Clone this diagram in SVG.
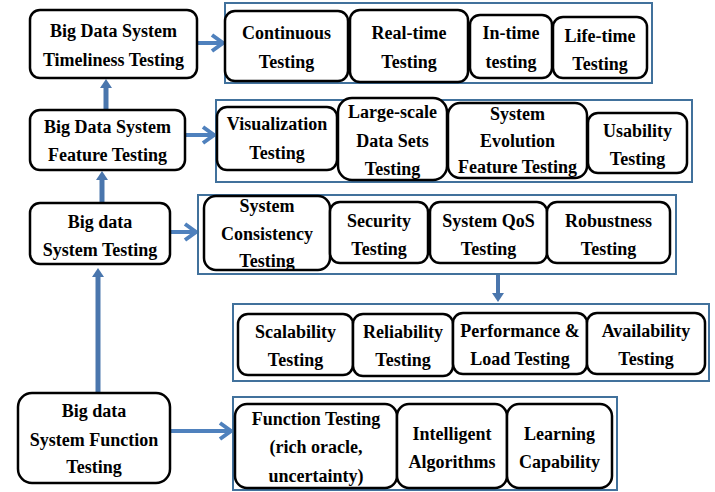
<svg xmlns="http://www.w3.org/2000/svg" width="715" height="492" viewBox="0 0 715 492">
<style>
.n rect{fill:#fff;stroke:#000;stroke-width:2.5}
.g{fill:none;stroke:#41719c;stroke-width:2}
text{font-family:"Liberation Serif","DejaVu Serif",serif;font-size:18px;font-weight:bold;text-anchor:middle;fill:#000}
.a{fill:none;stroke:#4f81bd;stroke-width:4}
.v{fill:none;stroke:#4a76ad;stroke-width:5}
</style>
<defs>
<marker id="chev" markerUnits="userSpaceOnUse" markerWidth="14" markerHeight="18" viewBox="0 0 14 18" refX="12" refY="9" orient="auto" style="overflow:visible">
<polyline points="1,1 12,9 1,17" fill="none" stroke="#4f81bd" stroke-width="4"/>
</marker>
<marker id="tri" markerUnits="userSpaceOnUse" markerWidth="9" markerHeight="12" viewBox="0 0 9 12" refX="0" refY="6" orient="auto" style="overflow:visible">
<path d="M0,0 L9,6 L0,12 z" fill="#4a76ad"/>
</marker>
</defs>
<rect width="715" height="492" fill="#fff"/>
<g id="connectors">
<path class="a" d="M197,43 H223" marker-end="url(#chev)"/>
<path class="a" d="M185,135 H214" marker-end="url(#chev)"/>
<path class="a" d="M170,232 H196" marker-end="url(#chev)"/>
<path class="a" d="M170,431 H231" marker-end="url(#chev)"/>
<path class="v" d="M98,393 V277" marker-end="url(#tri)"/>
<path class="v" d="M102,203 V180" marker-end="url(#tri)"/>
<path class="v" d="M106,110 V88" marker-end="url(#tri)"/>
<path class="v" style="stroke-width:4" d="M498,275 V293" marker-end="url(#tri)"/>
</g>
<g id="n1" class="n"><rect x="30" y="10" width="167" height="68" rx="10"/><text x="113.5" y="37">Big Data System</text><text x="113.5" y="66">Timeliness Testing</text></g>
<g id="n2" class="n"><rect x="30" y="110" width="155" height="60" rx="10"/><text x="107.5" y="133">Big Data System</text><text x="107.5" y="161">Feature Testing</text></g>
<g id="n3" class="n"><rect x="30" y="203" width="140" height="61" rx="10"/><text x="100" y="228">Big data</text><text x="100" y="256">System Testing</text></g>
<g id="n4" class="n"><rect x="18" y="393" width="152" height="90" rx="14"/><text x="94" y="417">Big data</text><text x="94" y="446">System Function</text><text x="94" y="473">Testing</text></g>

<g id="grp1"><rect class="g" x="225" y="3" width="427" height="80"/>
<g id="c1" class="n"><rect x="225" y="11" width="123" height="70" rx="10"/><text x="286.5" y="39">Continuous</text><text x="286.5" y="68">Testing</text></g>
<g id="c2" class="n"><rect x="350" y="10" width="118" height="72" rx="10"/><text x="409" y="39">Real-time</text><text x="409" y="68">Testing</text></g>
<g id="c3" class="n"><rect x="470" y="15" width="82" height="63" rx="10"/><text x="511" y="39">In-time</text><text x="511" y="68">testing</text></g>
<g id="c4" class="n"><rect x="553" y="17" width="94" height="61" rx="10"/><text x="600" y="42">Life-time</text><text x="600" y="70">Testing</text></g>
</g>

<g id="grp2"><rect class="g" x="216" y="100" width="476" height="82"/>
<g id="f1" class="n"><rect x="217" y="107" width="120" height="63" rx="10"/><text x="277" y="130">Visualization</text><text x="277" y="159">Testing</text></g>
<g id="f2" class="n"><rect x="338" y="98" width="109" height="82" rx="14"/><text x="392.5" y="118">Large-scale</text><text x="392.5" y="147">Data Sets</text><text x="392.5" y="175">Testing</text></g>
<g id="f3" class="n"><rect x="448" y="103" width="139" height="75" rx="12"/><text x="517.5" y="120">System</text><text x="517.5" y="147">Evolution</text><text x="517.5" y="173">Feature Testing</text></g>
<g id="f4" class="n"><rect x="588" y="113" width="99" height="60" rx="10"/><text x="637.5" y="137">Usability</text><text x="637.5" y="165">Testing</text></g>
</g>

<g id="grp3"><rect class="g" x="198" y="195" width="478" height="79"/>
<g id="s1" class="n"><rect x="204" y="196" width="126" height="74" rx="12"/><text x="267" y="212">System</text><text x="267" y="240">Consistency</text><text x="267" y="267">Testing</text></g>
<g id="s2" class="n"><rect x="330" y="202" width="98" height="61" rx="10"/><text x="379" y="227">Security</text><text x="379" y="255">Testing</text></g>
<g id="s3" class="n"><rect x="430" y="202" width="117" height="61" rx="10"/><text x="488.5" y="227">System QoS</text><text x="488.5" y="255">Testing</text></g>
<g id="s4" class="n"><rect x="547" y="202" width="123" height="61" rx="10"/><text x="608.5" y="227">Robustness</text><text x="608.5" y="255">Testing</text></g>
</g>

<g id="grp4"><rect class="g" x="233" y="304" width="476" height="77"/>
<g id="q1" class="n"><rect x="238" y="314" width="115" height="61" rx="10"/><text x="295.5" y="338">Scalability</text><text x="295.5" y="366">Testing</text></g>
<g id="q2" class="n"><rect x="353" y="314" width="100" height="62" rx="10"/><text x="403" y="338">Reliability</text><text x="403" y="366">Testing</text></g>
<g id="q3" class="n"><rect x="453" y="313" width="134" height="61" rx="10"/><text x="520" y="337">Performance &amp;</text><text x="520" y="365">Load Testing</text></g>
<g id="q4" class="n"><rect x="587" y="313" width="118" height="61" rx="10"/><text x="646" y="337">Availability</text><text x="646" y="365">Testing</text></g>
</g>

<g id="grp5"><rect class="g" x="233" y="397" width="384" height="93"/>
<g id="u1" class="n"><rect x="235" y="404" width="162" height="84" rx="12"/><text x="316" y="425">Function Testing</text><text x="316" y="453">(rich oracle,</text><text x="316" y="482">uncertainty)</text></g>
<g id="u2" class="n"><rect x="397" y="404" width="110" height="84" rx="12"/><text x="452" y="440">Intelligent</text><text x="452" y="468">Algorithms</text></g>
<g id="u3" class="n"><rect x="507" y="404" width="105" height="84" rx="12"/><text x="559.5" y="440">Learning</text><text x="559.5" y="468">Capability</text></g>
</g>
</svg>
